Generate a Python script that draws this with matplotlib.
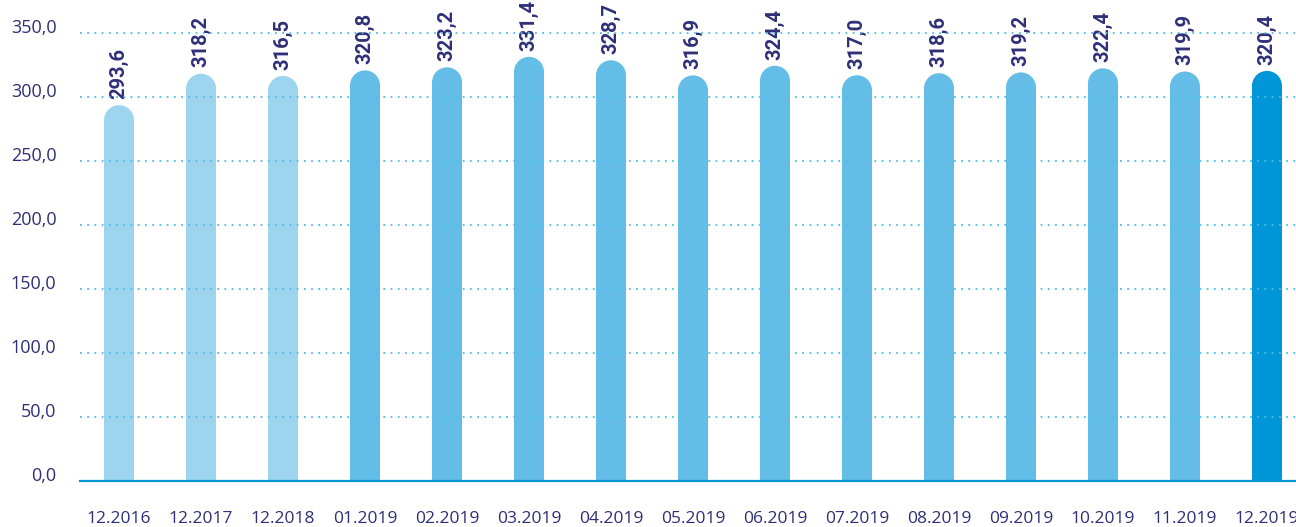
import matplotlib.pyplot as plt
from matplotlib.patches import Ellipse

months = ['12.2016', '12.2017', '12.2018', '01.2019', '02.2019', '03.2019', '04.2019',
          '05.2019', '06.2019', '07.2019', '08.2019', '09.2019', '10.2019', '11.2019', '12.2019']
values = [293.6, 318.2, 316.5, 320.8, 323.2, 331.4, 328.7,
          316.9, 324.4, 317.0, 318.6, 319.2, 322.4, 319.9, 320.4]
colors = ['#9dd5ef'] * 3 + ['#64bde7'] * 11 + ['#0096d8']
yticks = [0, 50, 100, 150, 200, 250, 300, 350]

text_col = '#2e2f78'
plt.rcParams['font.family'] = ['Open Sans', 'DejaVu Sans']

fig = plt.figure(figsize=(12.96, 5.27), dpi=100)
ax = fig.add_axes([80 / 1296, 46 / 527, 1226 / 1296, 448 / 527])
ax.set_xlim(-0.476, len(values) - 1 + 0.476)
ax.set_ylim(0, 350)

bw = 0.366
x = list(range(len(values)))
# radius of the round cap in data units (so it looks circular on screen)
px_x = ax.bbox.width / (ax.get_xlim()[1] - ax.get_xlim()[0])
px_y = ax.bbox.height / 350
ry = (bw / 2) * px_x / px_y

ax.bar(x, [v - ry for v in values], width=bw, color=colors, zorder=2)
for xi, v, c in zip(x, values, colors):
    ax.add_patch(Ellipse((xi, v - ry), bw, 2 * ry, color=c, lw=0, zorder=2))
    ax.annotate(f'{v:.1f}'.replace('.', ','), (xi, v), xytext=(0, 4.5), textcoords='offset points',
                rotation=90, ha='center', va='bottom', fontsize=14.5, fontweight='bold',
                color=text_col, family=['Roboto', 'DejaVu Sans'], annotation_clip=False)

for t in yticks[1:]:
    ax.axhline(t, color='#4fbde8', lw=1.3, ls=(0, (1, 3)), zorder=3, clip_on=False)

for s in ['top', 'right', 'left']:
    ax.spines[s].set_visible(False)
ax.spines['bottom'].set_color('#0096d6')
ax.spines['bottom'].set_linewidth(1.6)
ax.spines['bottom'].set_zorder(4)

ax.set_yticks(yticks)
ax.set_yticklabels([f'{t:.1f}'.replace('.', ',') for t in yticks])
ax.set_xticks(x)
ax.set_xticklabels(months)
ax.tick_params(axis='y', length=0, pad=17, labelsize=13, labelcolor=text_col)
ax.tick_params(axis='x', length=0, pad=21.5, labelsize=12.5, labelcolor=text_col)
for lab in ax.get_yticklabels():
    lab.set_va('baseline')

fig.savefig('out.png', dpi=100)
